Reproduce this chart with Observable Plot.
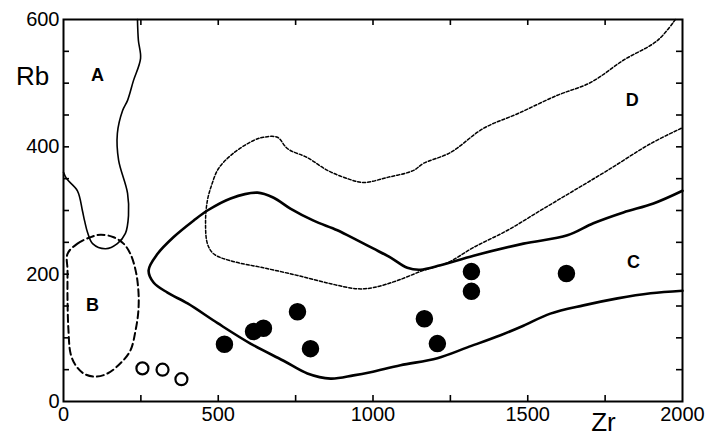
<!DOCTYPE html>
<html>
<head>
<meta charset="utf-8">
<script src="https://cdn.jsdelivr.net/npm/d3@7"></script>
<script src="https://cdn.jsdelivr.net/npm/@observablehq/plot@0.6"></script>
<style>
  html, body { margin: 0; padding: 0; background: #fff; }
  #chart { width: 709px; height: 439px; }
</style>
</head>
<body>
<div id="chart"></div>
<script>
// ---- data (Zr, Rb in ppm) ----
const zrFilled = [520, 614, 646, 756, 798, 1166, 1208, 1318, 1318, 1625];
const rbFilled = [90, 110, 115, 141, 83, 130, 91, 204, 173, 201];
const zrOpen = [255, 320, 381];
const rbOpen = [52, 50, 35];

// field boundaries [Zr, Rb]
const curveA = [[0,360],[10,350],[45,331],[61,300],[68,284],[78,265],[94,248],[136,240],[174,248],[200,264],[210,292],[207,327],[178,379],[174,421],[191,457],[207,473],[226,504],[249,539],[242,567],[239,600]];
const curveB = [[13,232],[45,248],[87,258],[120,262],[162,258],[194,248],[216,232],[233,206],[242,174],[242,143],[233,112],[216,80],[184,60],[142,44],[103,39],[65,44],[39,57],[23,75],[16,112],[13,159],[13,206]];
const curveC = [[2000,331],[1906,311],[1809,297],[1712,280],[1628,261],[1486,248],[1325,229],[1218,214],[1153,207],[1111,210],[1057,226],[1002,240],[950,253],[885,269],[808,284],[733,303],[679,320],[627,328],[540,319],[465,300],[420,284],[355,258],[304,232],[275,206],[291,187],[336,171],[401,154],[498,123],[604,91],[711,64],[788,44],[863,36],[937,41],[992,46],[1089,57],[1208,68],[1305,85],[1412,104],[1486,119],[1573,138],[1680,151],[1790,162],[1897,170],[2000,174]];
const curveD = [[1977,600],[1919,567],[1809,536],[1703,501],[1596,481],[1467,452],[1357,429],[1250,391],[1163,374],[1131,363],[1047,352],[969,344],[918,350],[853,363],[788,383],[724,397],[691,415],[646,415],[614,410],[549,390],[501,366],[478,339],[465,316],[459,284],[465,248],[485,232],[540,221],[646,210],[756,198],[863,185],[950,177],[1002,179],[1079,190],[1163,206],[1241,218],[1325,242],[1435,269],[1541,300],[1648,331],[1758,363],[1897,405],[2000,430]];

const fieldNames = ["A", "B", "C", "D"];
const fieldZr = [110, 94, 1842, 1838];
const fieldRb = [512, 151, 218, 473];

const xTickLabels = [0, 500, 1000, 1500, 2000];
const yTickLabels = [0, 200, 400, 600];
const xTicks = [250, 500, 750, 1000, 1250, 1500, 1750];
const yTicks = [50, 100, 150, 200, 250, 300, 350, 400, 450, 500, 550];

// ---- layout ----
const W = 709, H = 439, mL = 63, mR = 27, mT = 19, mB = 38;
const fw = W - mL - mR, fh = H - mT - mB;
const tick = 6;

const filled = zrFilled.map((z, i) => ({zr: z, rb: rbFilled[i]}));
const open = zrOpen.map((z, i) => ({zr: z, rb: rbOpen[i]}));
const fields = fieldNames.map((n, i) => ({name: n, zr: fieldZr[i], rb: fieldRb[i]}));

const chart = Plot.plot({
  width: W, height: H,
  marginLeft: mL, marginRight: mR, marginTop: mT, marginBottom: mB,
  x: {domain: [0, 2000]},
  y: {domain: [0, 600]},
  style: {fontFamily: "'Liberation Sans', Arial, sans-serif", fontSize: "20px", background: "#fff", color: "#000"},
  marks: [
    Plot.axisX(xTickLabels, {tickSize: 0, tickPadding: 5, fontSize: 20, label: null, tickFormat: d => String(d)}),
    Plot.axisY(yTickLabels, {tickSize: 0, tickPadding: 4, fontSize: 20, label: null, tickFormat: d => String(d)}),
    Plot.tickX(xTicks, {x: d => d, insetTop: fh - tick, stroke: "#000", strokeWidth: 1.6}),
    Plot.tickX(xTicks, {x: d => d, insetBottom: fh - tick, stroke: "#000", strokeWidth: 1.6}),
    Plot.tickY(yTicks, {y: d => d, insetRight: fw - tick, stroke: "#000", strokeWidth: 1.6}),
    Plot.tickY(yTicks, {y: d => d, insetLeft: fw - tick, stroke: "#000", strokeWidth: 1.6}),
    Plot.line(curveA, {x: d => d[0], y: d => d[1], stroke: "#000", strokeWidth: 1.6, curve: "catmull-rom"}),
    Plot.line(curveB, {x: d => d[0], y: d => d[1], stroke: "#000", strokeWidth: 2, strokeDasharray: "7,4", curve: "catmull-rom-closed"}),
    Plot.line(curveC, {x: d => d[0], y: d => d[1], stroke: "#000", strokeWidth: 2.6, curve: "catmull-rom"}),
    Plot.line(curveD, {x: d => d[0], y: d => d[1], stroke: "#000", strokeWidth: 1.5, strokeDasharray: "3,2", curve: "catmull-rom"}),
    Plot.frame({stroke: "#000", strokeWidth: 2}),
    Plot.dot(filled, {x: "zr", y: "rb", r: 8, fill: "#000", stroke: "#000"}),
    Plot.dot(open, {x: "zr", y: "rb", r: 6, fill: "#fff", stroke: "#000", strokeWidth: 2.2}),
    Plot.text(fields, {x: "zr", y: "rb", text: "name", fontSize: 18, fontWeight: "bold", fill: "#000"}),
    Plot.text(["Rb"], {frameAnchor: "top-left", textAnchor: "middle", lineAnchor: "middle", dx: -31, dy: 57, text: d => d, fontSize: 26, fill: "#000"}),
    Plot.text(["Zr"], {frameAnchor: "bottom-right", textAnchor: "middle", lineAnchor: "middle", dx: -79, dy: 21, text: d => d, fontSize: 26, fill: "#000"})
  ]
});
document.getElementById("chart").appendChild(chart);
</script>
</body>
</html>
